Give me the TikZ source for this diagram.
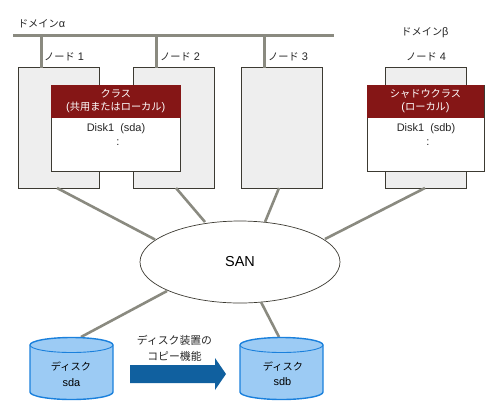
\documentclass[tikz,border=0pt]{standalone}
\usepackage{fontspec}
\setmainfont{Liberation Sans}
\newfontfamily\jp[Scale=0.93]{Noto Sans CJK JP}
\usetikzlibrary{shapes.geometric,shapes.arrows,calc}
\definecolor{linegray}{HTML}{8A8A80}
\definecolor{boxedge}{HTML}{3C3A32}
\definecolor{boxfill}{HTML}{EEEEEE}
\definecolor{headred}{HTML}{851616}
\definecolor{diskfill}{HTML}{9CCBF4}
\definecolor{diskedge}{HTML}{1A80DC}
\definecolor{arrowblue}{HTML}{10609F}
\tikzset{
  x=1bp,y=-1bp,
  wire/.style={draw=linegray,line width=2.6bp},
  nodebox/.style={draw=boxedge,fill=boxfill,line width=0.8bp,minimum height=120.5bp,minimum width=81bp,inner sep=0,outer sep=0},
  classbox/.style={draw=boxedge,fill=white,line width=0.8bp,minimum height=86.5bp,inner sep=0,outer sep=0},
  headbox/.style={fill=headred,text=white,minimum height=32.5bp,inner sep=0,outer sep=0,align=center,font=\fontsize{11}{13.5}\selectfont},
  lbl/.style={inner sep=0,outer sep=0,align=center,text=black!85,font=\fontsize{11}{14}\selectfont},
  disk/.style={draw=diskedge,fill=diskfill,line width=1.4bp},
}
\begin{document}
\begin{tikzpicture}
\useasboundingbox (0,0) rectangle (500,410);
% anchors
\node[nodebox] (n1) at (58.75,127.75) {};
\node[nodebox] (n2) at (174,127.75) {};
\node[nodebox] (n3) at (282,127.75) {};
\node[nodebox] (n4) at (425.5,127.75) {};
\node[draw=boxedge,fill=white,line width=0.7bp,ellipse,minimum width=200bp,minimum height=82bp,inner sep=0,outer sep=0] (san) at (240,262) {\fontsize{14.5}{16}\selectfont SAN};
\coordinate (busl) at (13,35);
\coordinate (busr) at (334,35);
\coordinate (b1) at (41.5,35);
\coordinate (b2) at (156.5,35);
\coordinate (b3) at (264.5,35);
\coordinate (da) at (81,337);
\coordinate (db) at (279,337);
\coordinate (sa) at (167,291);
\coordinate (sb) at (261,302);
\coordinate (s1) at (155,239.5);
\coordinate (s2) at (205,222);
\coordinate (s3) at (265,222);
\coordinate (s4) at (325,239);
\coordinate (m1) at (57,188);
\coordinate (m2) at (176,188);
\coordinate (m3) at (279,188);
\coordinate (m4) at (425,188);
% bus
\draw[wire,line width=3bp] (busl) -- (busr);
\draw[wire] (b1) -- (b1 |- n1.north);
\draw[wire] (b2) -- (b2 |- n2.north);
\draw[wire] (b3) -- (b3 |- n3.north);
% links
\draw[wire] (m1) -- (s1);
\draw[wire] (m2) -- (s2);
\draw[wire] (m3) -- (s3);
\draw[wire] (m4) -- (s4);
\draw[wire] (sa) -- (da);
\draw[wire] (sb) -- (db);
% labels
\node[lbl,anchor=west] (ta) at (18,24) {{\jp ドメイン}α};
\node[lbl] (tb) at (425,32.5) {{\jp ドメイン}β};
\node[lbl] (l1) at (64,57) {{\jp ノード} 1};
\node[lbl] (l2) at (180,57) {{\jp ノード} 2};
\node[lbl] (l3) at (288,56.5) {{\jp ノード} 3};
\node[lbl] (l4) at (426,57) {{\jp ノード} 4};
% class boxes
\node[classbox,minimum width=129.5bp] (c1) at (115.75,128.25) {};
\node[headbox,minimum width=129.5bp,anchor=north] (h1) at (c1.north) {{\jp クラス}\\({\jp 共用またはローカル})};
\node[lbl] at (116,128.5) {Disk1\ \ (sda)};
\node[lbl] at (118,143) {:};
\node[classbox,minimum width=117bp] (c2) at (425.5,128.25) {};
\node[headbox,minimum width=117bp,anchor=north] (h2) at (c2.north) {{\jp シャドウクラス}\\({\jp ローカル})};
\node[lbl] at (426,128.5) {Disk1\ \ (sdb)};
\node[lbl] at (428,143) {:};
% disks
\draw[disk] (30,345) arc[start angle=180,end angle=0,x radius=41.5,y radius=-7.5] -- (113,392) arc[start angle=0,end angle=-180,x radius=41.5,y radius=-7.5] -- cycle;
\draw[disk,line width=0.9bp] (30,345) arc[start angle=180,end angle=360,x radius=41.5,y radius=-7.5];
\draw[disk] (240,345) arc[start angle=180,end angle=0,x radius=41.5,y radius=-7.5] -- (323,392) arc[start angle=0,end angle=-180,x radius=41.5,y radius=-7.5] -- cycle;
\draw[disk,line width=0.9bp] (240,345) arc[start angle=180,end angle=360,x radius=41.5,y radius=-7.5];
\node[lbl,text=black] at (71,367) {\jp ディスク};
\node[lbl,text=black] at (71.5,383) {sda};
\node[lbl,text=black] at (283,367) {\jp ディスク};
\node[lbl,text=black] at (282.5,381.5) {sdb};
% copy arrow
\node[lbl,font=\fontsize{11.7}{15.5}\selectfont] at (174.5,348.5) {{\jp ディスク装置の}\\{\jp コピー機能}};
\fill[arrowblue] (130,365) -- (215,365) -- (215,358) -- (226,374) -- (215,390) -- (215,383) -- (130,383) -- cycle;
\end{tikzpicture}
\end{document}
